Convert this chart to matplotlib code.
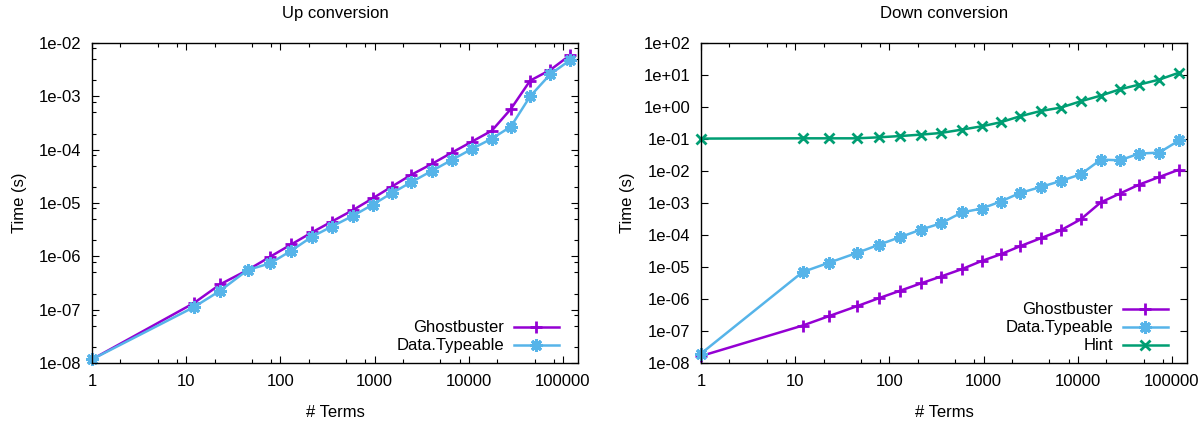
import numpy as np
import matplotlib
matplotlib.use("Agg")
import matplotlib.pyplot as plt
from matplotlib.ticker import LogLocator, FuncFormatter, NullLocator, NullFormatter

# ---- data ----
terms = [1, 12, 23, 45, 78, 131, 217, 350, 593, 953, 1517, 2432, 4036,
         6592, 10765, 17580, 27990, 44870, 73280, 119700]

up_ghostbuster = [1.17e-8, 1.32e-7, 2.99e-7, 5.55e-7, 9.84e-7, 1.68e-6, 2.82e-6,
                  4.47e-6, 7.4e-6, 1.22e-5, 2.02e-5, 3.35e-5, 5.38e-5, 8.77e-5,
                  1.41e-4, 2.27e-4, 5.79e-4, 1.97e-3, 3.12e-3, 5.96e-3]
up_typeable = [1.17e-8, 1.11e-7, 2.27e-7, 5.55e-7, 7.4e-7, 1.28e-6, 2.34e-6,
               3.6e-6, 5.78e-6, 9.29e-6, 1.52e-5, 2.44e-5, 3.98e-5, 6.4e-5,
               1.03e-4, 1.61e-4, 2.7e-4, 1.0e-3, 2.59e-3, 4.8e-3]

down_ghostbuster = [1.65e-8, 1.48e-7, 2.94e-7, 5.92e-7, 1.07e-6, 1.83e-6, 3.09e-6,
                    5.0e-6, 8.66e-6, 1.54e-5, 2.49e-5, 4.44e-5, 7.89e-5, 1.40e-4,
                    3.09e-4, 1.05e-3, 1.97e-3, 3.76e-3, 6.49e-3, 1.11e-2]
down_typeable = [1.97e-8, 6.98e-6, 1.37e-5, 2.74e-5, 5.0e-5, 8.66e-5, 1.48e-4,
                 2.3e-4, 5.11e-4, 6.68e-4, 1.11e-3, 2.05e-3, 3.16e-3, 4.87e-3,
                 7.89e-3, 2.27e-2, 2.16e-2, 3.5e-2, 3.76e-2, 9.1e-2]
down_hint = [0.103, 0.105, 0.105, 0.105, 0.113, 0.124, 0.137, 0.154, 0.197, 0.249,
             0.333, 0.512, 0.75, 0.955, 1.51, 2.27, 3.57, 5.01, 7.18, 11.9]

titles = ["Up conversion", "Down conversion"]
xlabel = "# Terms"
ylabel = "Time (s)"

# ---- style ----
plt.rcParams['font.family'] = ['Liberation Sans', 'DejaVu Sans']
FS = 12
C_GB = '#9400d3'
C_DT = '#56b4e9'
C_HI = '#009e73'
ASTER = (8, 2, 0)

W, H = 1204, 424
fig = plt.figure(figsize=(W / 100, H / 100), dpi=100)

ax_w = 486 / W
ax_h = 320 / H
bottom = (H - 363) / H
ax1 = fig.add_axes([92 / W, bottom, ax_w, ax_h])
ax2 = fig.add_axes([701 / W, bottom, ax_w, ax_h])

xmax = 10 ** 5.16


def style(ax, ymin, ymax, yminor, ylabelpad):
    ax.set_xscale('log')
    ax.set_yscale('log')
    ax.set_xlim(1, xmax)
    ax.set_ylim(ymin, ymax)
    ax.xaxis.set_major_locator(LogLocator(base=10, numticks=20))
    ax.xaxis.set_minor_locator(LogLocator(base=10, subs=(2.0, 5.0, 8.0), numticks=20))
    ax.xaxis.set_major_formatter(FuncFormatter(lambda v, p: f"{int(round(v))}"))
    ax.xaxis.set_minor_formatter(NullFormatter())
    ax.yaxis.set_major_locator(LogLocator(base=10, numticks=20))
    if yminor:
        ax.yaxis.set_minor_locator(LogLocator(base=10, subs=(2.0, 5.0, 8.0), numticks=20))
    else:
        ax.yaxis.set_minor_locator(NullLocator())
    ax.yaxis.set_minor_formatter(NullFormatter())
    ax.yaxis.set_major_formatter(FuncFormatter(lambda v, p: f"{v:.0e}"))
    ax.tick_params(which='both', direction='in', top=True, right=True,
                   labelsize=FS, colors='black', width=0.8)
    ax.tick_params(which='major', length=5.2)
    ax.tick_params(which='minor', length=2.6)
    ax.tick_params(axis='x', which='major', pad=7.7)
    ax.tick_params(axis='y', which='major', pad=7.5)
    for s in ax.spines.values():
        s.set_linewidth(1.0)
        s.set_color('black')
    ax.set_xlabel(xlabel, fontsize=FS, labelpad=12)
    ax.set_ylabel(ylabel, fontsize=FS, labelpad=ylabelpad)


def plot(ax, y, color, marker, label, ms, mew):
    ax.plot(terms, y, color=color, lw=1.8, marker=marker, ms=ms, mew=mew,
            mec=color, mfc=color, label=label, clip_on=False)


def legend(ax):
    leg = ax.legend(loc='lower right', bbox_to_anchor=(0.96, 0.03),
                    frameon=False, markerfirst=False, fontsize=FS,
                    handlelength=2.7, handletextpad=0.58, labelspacing=0.18,
                    borderaxespad=0, borderpad=0)
    for vp in leg._legend_handle_box.get_children():
        vp.align = 'right'
    return leg


style(ax1, 1e-8, 1e-2, True, 8.5)
plot(ax1, up_ghostbuster, C_GB, '+', 'Ghostbuster', 8, 2.0)
plot(ax1, up_typeable, C_DT, ASTER, 'Data.Typeable', 9, 2.2)
ax1.set_title(titles[0], fontsize=FS, pad=18)
legend(ax1)

style(ax2, 1e-8, 1e2, False, 6.5)
plot(ax2, down_ghostbuster, C_GB, '+', 'Ghostbuster', 8, 2.0)
plot(ax2, down_typeable, C_DT, ASTER, 'Data.Typeable', 9, 2.2)
plot(ax2, down_hint, C_HI, 'x', 'Hint', 7, 2.0)
ax2.set_title(titles[1], fontsize=FS, pad=18)
legend(ax2)

fig.savefig('out.png', dpi=100)
